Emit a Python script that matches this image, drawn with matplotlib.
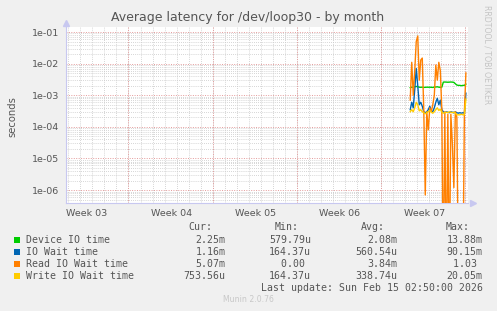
import numpy as np
import matplotlib
matplotlib.use('Agg')
from matplotlib import pyplot as plt
from matplotlib.ticker import NullLocator

# samples every 3 hours, starting ~28.6 days into the month window
hours = [0, 3, 6, 9, 12, 15, 18, 21, 24, 27, 30, 33, 36, 39, 42, 45, 48, 51, 54,
         57, 60, 63, 66, 69, 72, 75, 78, 81, 84, 87, 90, 93, 96, 99, 102, 105, 108, 111]
data_start_day = 28.6

device_io = [1.75e-3, 1.8e-3, 1.78e-3, 1.85e-3, 1.9e-3, 1.85e-3, 1.8e-3, 1.78e-3, 1.8e-3,
             1.77e-3, 1.78e-3, 1.8e-3, 1.79e-3, 1.8e-3, 1.78e-3, 1.77e-3, 1.8e-3, 1.82e-3,
             1.85e-3, 1.8e-3, 1.78e-3, 1.8e-3, 2.6e-3, 2.62e-3, 2.6e-3, 2.58e-3, 2.6e-3,
             2.62e-3, 2.6e-3, 2.55e-3, 2.3e-3, 2.1e-3, 2.05e-3, 2.05e-3, 2.0e-3, 2.05e-3,
             2.05e-3, 2.25e-3]
io_wait = [3.5e-4, 6e-4, 4e-4, 1.5e-3, 7e-3, 2e-3, 5e-4, 6e-4, 4.5e-4, 3e-4, 2.8e-4, 3e-4,
           3.5e-4, 4.5e-4, 3.2e-4, 3e-4, 4e-4, 6e-4, 8e-4, 5e-4, 7e-4, 3.5e-4, 3e-4, 2.8e-4,
           3e-4, 2.9e-4, 2.8e-4, 3e-4, 2.9e-4, 2.8e-4, 3e-4, 2.8e-4, 2.7e-4, 2.8e-4, 2.7e-4,
           2.8e-4, 2.7e-4, 1.16e-3]
read_io_wait = [7e-4, 1.1e-2, 1e-3, 6e-3, 5e-2, 7.5e-2, 3e-3, 1.3e-2, 1.5e-2, 3.4e-4, 7e-7,
                3e-4, 8e-5, 4e-4, 3e-4, 5e-4, 1e-3, 9e-3, 3e-3, 1.1e-2, 6e-3, 3.4e-4, 0.0,
                3e-4, 0.0, 2.5e-4, 0.0, 2.5e-4, 3e-5, 1.2e-6, 3e-4, 2e-4, 0.0, 0.0, 0.0, 0.0,
                3e-4, 5.07e-3]
write_io_wait = [3e-4, 3.5e-4, 3e-4, 4e-4, 6e-4, 5e-4, 3.2e-4, 3.5e-4, 3e-4, 2.8e-4, 2.6e-4,
                 2.8e-4, 3e-4, 3.3e-4, 2.9e-4, 2.7e-4, 3e-4, 3.5e-4, 4e-4, 3.3e-4, 3.6e-4,
                 2.9e-4, 2.7e-4, 2.8e-4, 2.9e-4, 2.8e-4, 3e-4, 2.9e-4, 2.8e-4, 2.9e-4, 2.7e-4,
                 2.4e-4, 2.4e-4, 2.4e-4, 2.5e-4, 2.4e-4, 2.4e-4, 7.5356e-4]

week_labels = ['Week 03', 'Week 04', 'Week 05', 'Week 06', 'Week 07']
ytick_labels = ['1e-06', '1e-05', '1e-04', '1e-03', '1e-02', '1e-01']

series_names = ['Device IO time', 'IO Wait time', 'Read IO Wait time', 'Write IO Wait time']
series_colors = ['#00cc00', '#0066b3', '#ff8000', '#ffcc00']
cur_vals = ['2.25m', '1.16m', '5.07m', '753.56u']
min_vals = ['579.79u', '164.37u', '0.00 ', '164.37u']
avg_vals = ['2.08m', '560.54u', '3.84m', '338.74u']
max_vals = ['13.88m', '90.15m', '1.03 ', '20.05m']

W, H = 497, 311
txt = '#555555'
mono = 'DejaVu Sans Mono'

fig = plt.figure(figsize=(W / 100, H / 100), dpi=100, facecolor='#f0f0f0')
ax = fig.add_axes([66 / W, 1 - 203 / H, 402 / W, 176 / H])
ax.set_facecolor('white')
ax.set_yscale('log')
ax.set_xlim(0, 33.4)
ax.set_ylim(3.9e-7, 1.44e-1)

# grid, drawn by hand like rrdtool does
minor_c = '#c8c8c8'
major_c = '#e49a9a'
for d in range(-7, 0):
    for m in range(2, 10):
        ax.axhline(m * 10.0 ** d, color=minor_c, lw=0.6, ls=(0, (1, 1.5)), zorder=1)
    ax.axhline(10.0 ** d, color=major_c, lw=0.7, ls=(0, (1, 1.5)), zorder=1)
for x in np.arange(0.19, 33.4, 1.0):
    ax.axvline(x, color=minor_c, lw=0.6, ls=(0, (1, 1.5)), zorder=1)
for x in np.arange(5.19, 33.4, 7.0):
    ax.axvline(x, color=major_c, lw=0.7, ls=(0, (1, 1.5)), zorder=1)

t = data_start_day + np.array(hours) / 24.0
for vals, col in zip([device_io, io_wait, read_io_wait, write_io_wait], series_colors):
    v = np.array(vals)
    v = np.where(v > 0, v, 1e-9)  # zero goes to the floor like rrdtool
    ax.plot(t, v, color=col, lw=1.0, zorder=3)

for s in ['top', 'right']:
    ax.spines[s].set_visible(False)
for s in ['left', 'bottom']:
    ax.spines[s].set_color('#c8c8f0')
    ax.spines[s].set_linewidth(0.8)
ax.plot([0], [1.02], marker='^', ms=4, color='#c8c8f0', transform=ax.transAxes, clip_on=False)
ax.plot([1.013], [0], marker='>', ms=4, color='#c8c8f0', transform=ax.transAxes, clip_on=False)
ax.plot([0, 0], [1, 1.02], color='#c8c8f0', lw=0.8, transform=ax.transAxes, clip_on=False)

ax.set_yticks([1e-6, 1e-5, 1e-4, 1e-3, 1e-2, 1e-1])
ax.set_yticklabels(ytick_labels)
ax.yaxis.set_minor_locator(NullLocator())
ax.set_xticks([1.75 + 7 * k for k in range(len(week_labels))])
ax.set_xticklabels(week_labels)
ax.tick_params(axis='both', length=0, labelsize=6.8, colors=txt, pad=4)
ax.tick_params(axis='y', pad=5)

fig.text(248 / W, 1 - 18 / H, 'Average latency for /dev/loop30 - by month',
         ha='center', va='center', fontsize=9, color=txt)
fig.text(12 / W, 1 - 117 / H, 'seconds', rotation=90, ha='center', va='center',
         fontsize=7.2, color=txt)
fig.text(487.5 / W, 1 - 5 / H, 'RRDTOOL / TOBI OETIKER', rotation=270, ha='center', va='top',
         fontsize=5.6, color='#c4c4c4')

# legend block
fs = 7.1
hy = 227
fig.text(212.7 / W, 1 - hy / H, 'Cur:', ha='right', va='center', fontsize=fs, family=mono, color=txt)
fig.text(299 / W, 1 - hy / H, 'Min:', ha='right', va='center', fontsize=fs, family=mono, color=txt)
fig.text(385 / W, 1 - hy / H, 'Avg:', ha='right', va='center', fontsize=fs, family=mono, color=txt)
fig.text(470 / W, 1 - hy / H, 'Max:', ha='right', va='center', fontsize=fs, family=mono, color=txt)
for i, name in enumerate(series_names):
    y = 1 - (239.7 + 12 * i) / H
    fig.patches.append(plt.Rectangle((14 / W, y - 3 / H), 6 / W, 6 / H, transform=fig.transFigure,
                                     facecolor=series_colors[i], edgecolor='none'))
    fig.text(26 / W, y, name, ha='left', va='center', fontsize=fs, family=mono, color=txt)
    fig.text(225.7 / W, y, cur_vals[i], ha='right', va='center', fontsize=fs, family=mono, color=txt)
    fig.text(311 / W, y, min_vals[i], ha='right', va='center', fontsize=fs, family=mono, color=txt)
    fig.text(397 / W, y, avg_vals[i], ha='right', va='center', fontsize=fs, family=mono, color=txt)
    fig.text(482.7 / W, y, max_vals[i], ha='right', va='center', fontsize=fs, family=mono, color=txt)
fig.text(482.7 / W, 1 - 287.7 / H, 'Last update: Sun Feb 15 02:50:00 2026', ha='right', va='center',
         fontsize=fs, family=mono, color=txt)
fig.text(248 / W, 1 - 300 / H, 'Munin 2.0.76', ha='center', va='center', fontsize=5.6, color='#c8c8c8')

fig.savefig('out.png', dpi=100, facecolor=fig.get_facecolor())
